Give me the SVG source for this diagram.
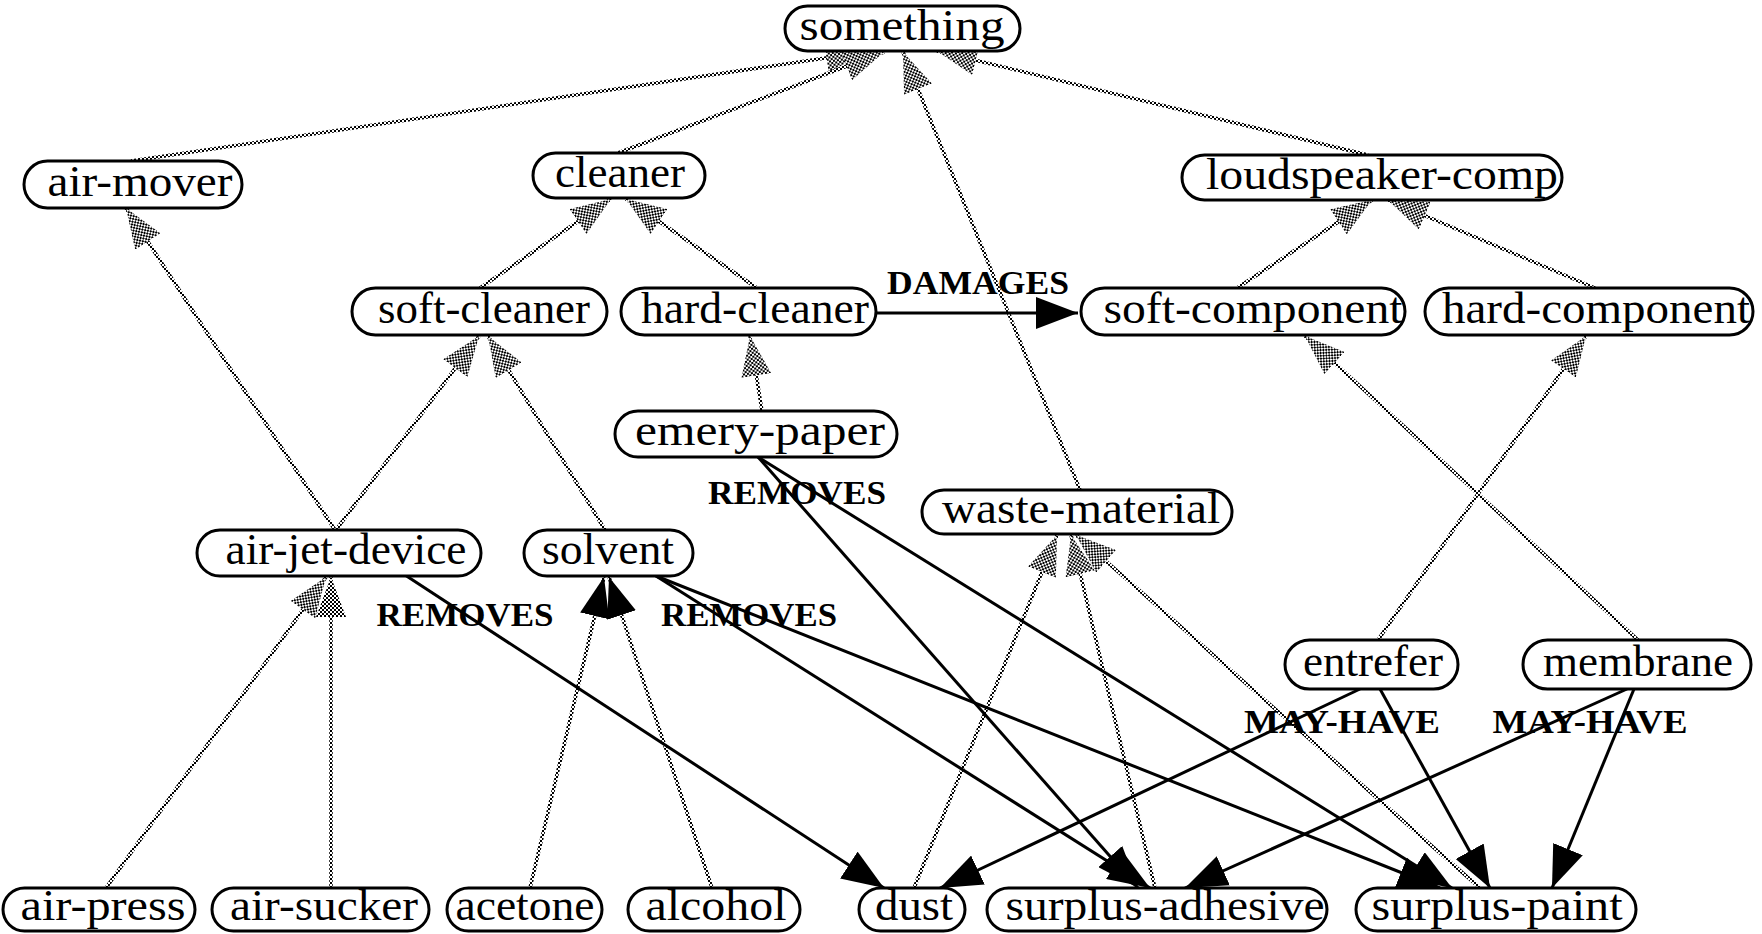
<svg xmlns="http://www.w3.org/2000/svg" width="1762" height="934" viewBox="0 0 1762 934">
<style>
.n{fill:#fff;stroke:#000;stroke-width:3}
.t{font-family:"Liberation Serif","Times New Roman",serif;font-size:45px;fill:#000;text-anchor:middle}
.l{font-family:"Liberation Serif","Times New Roman",serif;font-size:34px;font-weight:bold;fill:#000;text-anchor:middle}
.d{fill:none;stroke:url(#ck);stroke-width:3.5;marker-end:url(#ahc)}
.db{fill:none;stroke:url(#ck);stroke-width:3.5;marker-end:url(#ahb)}
.s{fill:none;stroke:#000;stroke-width:3;marker-end:url(#ah)}
</style>
<defs>
<pattern id="ck" width="4" height="4" patternUnits="userSpaceOnUse"><rect width="4" height="4" fill="#fff"/><rect width="2" height="2" fill="#000"/><rect x="2" y="2" width="2" height="2" fill="#000"/></pattern>
<marker id="ah" viewBox="0 0 42 32" refX="42" refY="16" markerWidth="42" markerHeight="32" orient="auto" markerUnits="userSpaceOnUse"><path d="M0,0 L42,16 L0,32 z" fill="#000"/></marker>
<marker id="ahb" viewBox="0 0 40 30" refX="40" refY="15" markerWidth="40" markerHeight="30" orient="auto" markerUnits="userSpaceOnUse"><path d="M0,0 L40,15 L0,30 z" fill="#000"/></marker>
<marker id="ahc" viewBox="0 0 40 30" refX="40" refY="15" markerWidth="40" markerHeight="30" orient="auto" markerUnits="userSpaceOnUse"><path d="M0,0 L40,15 L0,30 z" fill="url(#ck)"/></marker>
</defs>
<g id="connectors">
<line class="d" x1="131" y1="161" x2="866" y2="52"/>
<line class="d" x1="618" y1="153" x2="884" y2="52"/>
<line class="d" x1="1080" y1="490" x2="903" y2="52"/>
<line class="d" x1="1368" y1="155" x2="937" y2="51"/>
<line class="d" x1="480" y1="288" x2="611" y2="199"/>
<line class="d" x1="757" y1="288" x2="626" y2="199"/>
<line class="d" x1="1237" y1="288" x2="1372" y2="200"/>
<line class="d" x1="1595" y1="288" x2="1388" y2="200"/>
<line class="d" x1="335" y1="530" x2="126" y2="208"/>
<line class="d" x1="336" y1="530" x2="479" y2="336"/>
<line class="d" x1="605" y1="530" x2="488" y2="336"/>
<line class="d" x1="762" y1="411" x2="750" y2="336"/>
<line class="d" x1="1378" y1="640" x2="1586" y2="336"/>
<line class="d" x1="1638" y1="640" x2="1305" y2="336"/>
<line class="d" x1="106" y1="888" x2="326" y2="577"/>
<line class="d" x1="331" y1="888" x2="331" y2="577"/>
<line class="db" x1="530" y1="888" x2="604" y2="577"/>
<line class="db" x1="712" y1="888" x2="609" y2="577"/>
<line class="d" x1="914" y1="888" x2="1057" y2="535"/>
<line class="d" x1="1155" y1="888" x2="1071" y2="535"/>
<line class="d" x1="1480" y1="888" x2="1076" y2="535"/>
<line class="s" x1="876" y1="313" x2="1078" y2="313"/>
<line class="s" x1="758" y1="457" x2="1138" y2="888"/>
<line class="s" x1="758" y1="457" x2="1452" y2="888"/>
<line class="s" x1="405" y1="575" x2="884" y2="888"/>
<line class="s" x1="656" y1="576" x2="1150" y2="888"/>
<line class="s" x1="656" y1="576" x2="1440" y2="888"/>
<line class="s" x1="1360" y1="689" x2="940" y2="888"/>
<line class="s" x1="1380" y1="689" x2="1490" y2="888"/>
<line class="s" x1="1627" y1="689" x2="1185" y2="888"/>
<line class="s" x1="1634" y1="689" x2="1552" y2="888"/>
<text class="l" x="978" y="294" textLength="182" lengthAdjust="spacingAndGlyphs">DAMAGES</text>
<text class="l" x="797" y="504" textLength="178" lengthAdjust="spacingAndGlyphs">REMOVES</text>
<text class="l" x="465" y="626" textLength="177" lengthAdjust="spacingAndGlyphs">REMOVES</text>
<text class="l" x="749" y="626" textLength="176" lengthAdjust="spacingAndGlyphs">REMOVES</text>
<text class="l" x="1342" y="733" textLength="196" lengthAdjust="spacingAndGlyphs">MAY-HAVE</text>
<text class="l" x="1590" y="733" textLength="195" lengthAdjust="spacingAndGlyphs">MAY-HAVE</text>
</g>
<g id="something"><rect class="n" x="785" y="6" width="235" height="45" rx="22.5"/><text class="t" x="902" y="40" textLength="205" lengthAdjust="spacingAndGlyphs">something</text></g>
<g id="air-mover"><rect class="n" x="24" y="161" width="218" height="47" rx="23.5"/><text class="t" x="140" y="196" textLength="185" lengthAdjust="spacingAndGlyphs">air-mover</text></g>
<g id="cleaner"><rect class="n" x="533" y="153" width="172" height="45" rx="22.5"/><text class="t" x="620" y="187" textLength="130" lengthAdjust="spacingAndGlyphs">cleaner</text></g>
<g id="loudspeaker-comp"><rect class="n" x="1182" y="155" width="380" height="45" rx="22.5"/><text class="t" x="1382" y="189" textLength="352" lengthAdjust="spacingAndGlyphs">loudspeaker-comp</text></g>
<g id="soft-cleaner"><rect class="n" x="352" y="288" width="255" height="47" rx="23.5"/><text class="t" x="484" y="323" textLength="212" lengthAdjust="spacingAndGlyphs">soft-cleaner</text></g>
<g id="hard-cleaner"><rect class="n" x="621" y="288" width="255" height="47" rx="23.5"/><text class="t" x="755" y="323" textLength="228" lengthAdjust="spacingAndGlyphs">hard-cleaner</text></g>
<g id="soft-component"><rect class="n" x="1081" y="288" width="324" height="47" rx="23.5"/><text class="t" x="1253" y="323" textLength="299" lengthAdjust="spacingAndGlyphs">soft-component</text></g>
<g id="hard-component"><rect class="n" x="1425" y="288" width="328" height="47" rx="23.5"/><text class="t" x="1596" y="323" textLength="308" lengthAdjust="spacingAndGlyphs">hard-component</text></g>
<g id="emery-paper"><rect class="n" x="615" y="411" width="282" height="46" rx="23"/><text class="t" x="760" y="445" textLength="250" lengthAdjust="spacingAndGlyphs">emery-paper</text></g>
<g id="waste-material"><rect class="n" x="922" y="490" width="310" height="44" rx="22"/><text class="t" x="1081" y="523" textLength="278" lengthAdjust="spacingAndGlyphs">waste-material</text></g>
<g id="air-jet-device"><rect class="n" x="197" y="530" width="284" height="46" rx="23"/><text class="t" x="346" y="564" textLength="241" lengthAdjust="spacingAndGlyphs">air-jet-device</text></g>
<g id="solvent"><rect class="n" x="524" y="530" width="169" height="46" rx="23"/><text class="t" x="608" y="564" textLength="132" lengthAdjust="spacingAndGlyphs">solvent</text></g>
<g id="entrefer"><rect class="n" x="1285" y="640" width="173" height="49" rx="24.5"/><text class="t" x="1373" y="676" textLength="140" lengthAdjust="spacingAndGlyphs">entrefer</text></g>
<g id="membrane"><rect class="n" x="1523" y="640" width="228" height="49" rx="24.5"/><text class="t" x="1638" y="676" textLength="190" lengthAdjust="spacingAndGlyphs">membrane</text></g>
<g id="air-press"><rect class="n" x="3" y="888" width="192" height="43" rx="21.5"/><text class="t" x="103" y="920" textLength="165" lengthAdjust="spacingAndGlyphs">air-press</text></g>
<g id="air-sucker"><rect class="n" x="212" y="888" width="217" height="43" rx="21.5"/><text class="t" x="324" y="920" textLength="188" lengthAdjust="spacingAndGlyphs">air-sucker</text></g>
<g id="acetone"><rect class="n" x="447" y="888" width="155" height="43" rx="21.5"/><text class="t" x="525" y="920" textLength="139" lengthAdjust="spacingAndGlyphs">acetone</text></g>
<g id="alcohol"><rect class="n" x="628" y="888" width="172" height="43" rx="21.5"/><text class="t" x="716" y="920" textLength="141" lengthAdjust="spacingAndGlyphs">alcohol</text></g>
<g id="dust"><rect class="n" x="859" y="888" width="106" height="43" rx="21.5"/><text class="t" x="914" y="920" textLength="78" lengthAdjust="spacingAndGlyphs">dust</text></g>
<g id="surplus-adhesive"><rect class="n" x="987" y="888" width="340" height="43" rx="21.5"/><text class="t" x="1165" y="920" textLength="319" lengthAdjust="spacingAndGlyphs">surplus-adhesive</text></g>
<g id="surplus-paint"><rect class="n" x="1356" y="888" width="280" height="43" rx="21.5"/><text class="t" x="1497" y="920" textLength="251" lengthAdjust="spacingAndGlyphs">surplus-paint</text></g>
</svg>
